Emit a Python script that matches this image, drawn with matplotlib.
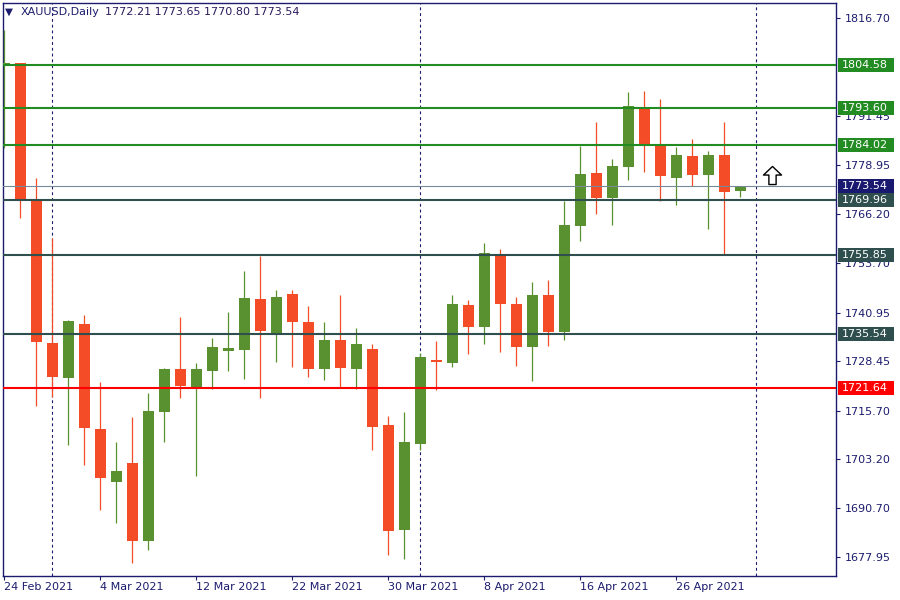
import matplotlib
matplotlib.use("Agg")
import matplotlib.pyplot as plt
import matplotlib.transforms as mtransforms
from matplotlib.patches import Rectangle
from matplotlib.path import Path

# ---------------- data ----------------
opens = [1804.9, 1805.1, 1770.1, 1733.0, 1724.2, 1738.0, 1711.0, 1697.4, 1702.2, 1682.2,
         1715.4, 1726.4, 1721.8, 1726.0, 1731.1, 1731.4, 1744.4, 1735.5, 1745.7, 1738.5,
         1726.5, 1733.9, 1726.5, 1731.6, 1712.0, 1685.1, 1707.2, 1728.6, 1728.0, 1742.9,
         1737.3, 1755.8, 1743.2, 1732.2, 1745.5, 1736.0, 1763.3, 1776.9, 1770.5, 1778.5,
         1793.9, 1783.9, 1775.7, 1781.3, 1776.4, 1781.5, 1772.21]
highs = [1813.7, 1805.3, 1775.5, 1760.1, 1739.0, 1740.3, 1723.0, 1707.6, 1714.1, 1720.3,
         1726.8, 1739.9, 1728.1, 1734.5, 1741.1, 1751.7, 1755.6, 1746.8, 1746.8, 1742.6,
         1738.5, 1745.4, 1736.9, 1732.9, 1714.4, 1715.4, 1730.5, 1733.6, 1745.4, 1744.2,
         1758.9, 1757.3, 1745.0, 1748.8, 1749.3, 1769.7, 1783.9, 1790.0, 1780.5, 1797.7,
         1798.0, 1795.9, 1783.6, 1785.6, 1782.5, 1790.0, 1773.65]
lows = [1783.3, 1765.4, 1717.0, 1719.3, 1706.9, 1701.7, 1690.2, 1686.9, 1676.6, 1679.8,
        1707.7, 1719.0, 1699.0, 1721.4, 1726.0, 1723.9, 1719.0, 1728.3, 1727.0, 1724.4,
        1723.7, 1721.6, 1721.4, 1705.7, 1678.6, 1677.6, 1705.7, 1721.1, 1727.0, 1730.4,
        1732.9, 1730.9, 1727.3, 1723.4, 1732.4, 1734.0, 1759.5, 1766.4, 1763.6, 1775.2,
        1777.2, 1769.7, 1768.7, 1773.5, 1762.5, 1755.9, 1770.80]
closes = [1805.2, 1770.1, 1733.5, 1724.4, 1738.8, 1711.3, 1698.5, 1700.2, 1682.2, 1715.6,
          1726.4, 1722.1, 1726.4, 1732.1, 1731.8, 1744.7, 1736.3, 1745.0, 1738.6, 1726.5,
          1733.9, 1726.8, 1732.9, 1711.6, 1684.8, 1707.6, 1729.5, 1728.4, 1743.1, 1737.3,
          1756.3, 1743.2, 1732.2, 1745.5, 1736.0, 1763.5, 1776.6, 1770.5, 1778.7, 1794.1,
          1784.1, 1776.2, 1781.5, 1776.4, 1781.5, 1772.1, 1773.54]

date_tick_index = [0, 6, 12, 18, 24, 30, 36, 42]
date_tick_labels = ["24 Feb 2021", "4 Mar 2021", "12 Mar 2021", "22 Mar 2021",
                    "30 Mar 2021", "8 Apr 2021", "16 Apr 2021", "26 Apr 2021"]
separator_index = [3, 26, 47]

price_ticks = [1816.70, 1791.45, 1778.95, 1766.20, 1753.70, 1740.95,
               1728.45, 1715.70, 1703.20, 1690.70, 1677.95]

resistance_levels = [1804.58, 1793.60, 1784.02]
support_levels = [1769.96, 1755.85, 1735.54]
key_level = 1721.64
bid_price = 1773.54

arrow_index = 48
arrow_price = 1776.4

title_symbol = "XAUUSD,Daily"
title_ohlc = "1772.21 1773.65 1770.80 1773.54"

# ---------------- style ----------------
NAVY = "#1c1c6e"
UP = "#5a9130"
DOWN = "#f34c27"
LVL_GREEN = "#228b22"
LVL_SLATE = "#2f4f4f"
LVL_RED = "#ff0000"
BID_LINE = "#778899"
BID_BOX = "#191970"

fig = plt.figure(figsize=(9, 6), dpi=100)
fig.patch.set_facecolor("white")
ax = fig.add_axes([3 / 900, 24 / 600, 833 / 900, 573 / 600])
ax.set_facecolor("white")

ax.set_ylim(1673.15, 1820.64)
ax.set_xlim(-0.07, 51.99)

# candles
body_w = 0.69
for i, (o, h, l, c) in enumerate(zip(opens, highs, lows, closes)):
    col = UP if c >= o else DOWN
    ax.vlines(i, l, h, color=col, linewidth=0.9, zorder=3)
    hgt = abs(c - o)
    bottom = min(o, c)
    if hgt < 0.3:
        bottom = (o + c) / 2 - 0.15
        hgt = 0.3
    ax.add_patch(Rectangle((i - body_w / 2, bottom), body_w, hgt,
                           facecolor=col, edgecolor="none", zorder=4))

# separators
for s in separator_index:
    ax.axvline(s, color=NAVY, linewidth=0.8, linestyle=(0, (2.6, 2.6)), zorder=2)

# levels
lvl_trans = mtransforms.blended_transform_factory(ax.transAxes, ax.transData)
box_x0 = (838 - 3) / 833
box_w = 56 / 833
box_h = 14 / 3.885
text_x = (842 - 3) / 833


def level_label(val, boxcol):
    ax.add_patch(Rectangle((box_x0, val - box_h / 2), box_w, box_h, transform=lvl_trans,
                           facecolor=boxcol, edgecolor="none", clip_on=False, zorder=10))
    ax.text(text_x, val, f"{val:.2f}", transform=lvl_trans, color="white", fontsize=8,
            va="center", ha="left", clip_on=False, zorder=11)


for v in resistance_levels:
    ax.axhline(v, color=LVL_GREEN, linewidth=1.5, zorder=5)
    level_label(v, LVL_GREEN)
ax.axhline(bid_price, color=BID_LINE, linewidth=0.8, zorder=5)
level_label(bid_price, BID_BOX)
for v in support_levels:
    ax.axhline(v, color=LVL_SLATE, linewidth=1.5, zorder=5)
    level_label(v, LVL_SLATE)
ax.axhline(key_level, color=LVL_RED, linewidth=1.5, zorder=5)
level_label(key_level, LVL_RED)

# arrow marker
arrow_path = Path([(0, 1), (1, 0.05), (0.4, 0.05), (0.4, -1), (-0.4, -1),
                   (-0.4, 0.05), (-1, 0.05), (0, 1)],
                  [Path.MOVETO] + [Path.LINETO] * 6 + [Path.CLOSEPOLY])
ax.plot([arrow_index], [arrow_price], marker=arrow_path, markersize=13,
        markerfacecolor="white", markeredgecolor="black", markeredgewidth=1.0,
        linestyle="none", clip_on=False, zorder=6)

# axes styling
for sp in ax.spines.values():
    sp.set_color(NAVY)
    sp.set_linewidth(1.0)

ax.yaxis.tick_right()
ax.set_yticks(price_ticks)
ax.set_yticklabels([f"{p:.2f}" for p in price_ticks])
ax.tick_params(axis="y", direction="out", length=3, width=0.8, color=NAVY,
               labelcolor=NAVY, labelsize=8, pad=3)

ax.set_xticks(date_tick_index)
ax.set_xticklabels(date_tick_labels, ha="left")
ax.tick_params(axis="x", direction="out", length=3, width=0.8, color=NAVY,
               labelcolor=NAVY, labelsize=8, pad=1.5)
for lbl in ax.get_xticklabels():
    lbl.set_horizontalalignment("left")

# title
fig.text(5 / 900, 1 - 12 / 600, "\u25bc", fontsize=7.5, color=NAVY, va="center", ha="left")
fig.text(21 / 900, 1 - 12 / 600, title_symbol, fontsize=8, color=NAVY, va="center", ha="left")
fig.text(105 / 900, 1 - 12 / 600, title_ohlc, fontsize=8, color="#2a1a5e", va="center", ha="left")

fig.savefig("out.png", dpi=100, facecolor="white")
